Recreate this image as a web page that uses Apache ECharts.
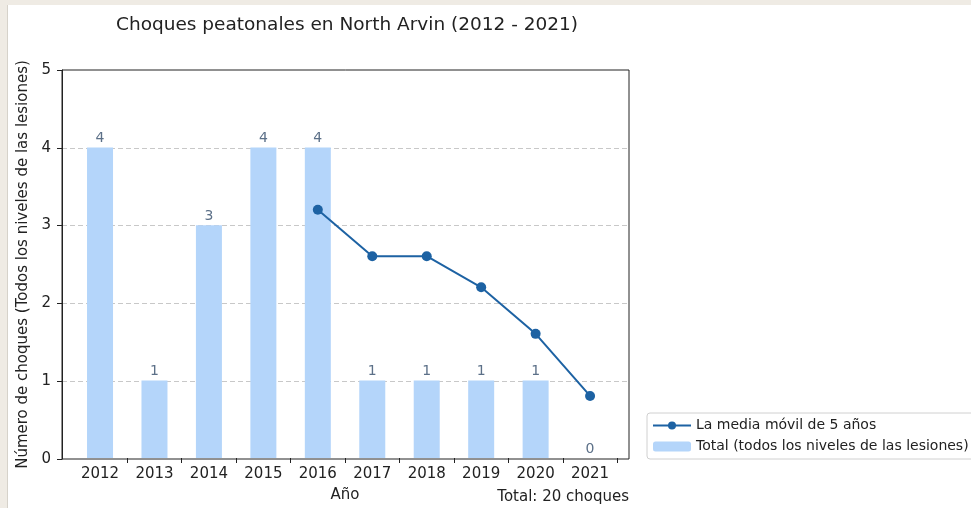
<!DOCTYPE html>
<html>
<head>
<meta charset="utf-8">
<script src="https://cdn.jsdelivr.net/npm/echarts@6/dist/echarts.min.js"></script>
<style>
html,body{margin:0;padding:0;background:#fff;}
#chart{width:971px;height:508px;}
</style>
</head>
<body>
<div id="chart"></div>
<script>
var years = ['2012','2013','2014','2015','2016','2017','2018','2019','2020','2021'];
var totals = [4, 1, 3, 4, 4, 1, 1, 1, 1, 0];
var movingAvg = [null, null, null, null, 3.2, 2.6, 2.6, 2.2, 1.6, 0.8];
var yTicks = [0, 1, 2, 3, 4, 5];
var titleText = 'Choques peatonales en North Arvin (2012 - 2021)';
var yName = 'Número de choques (Todos los niveles de las lesiones)';
var xName = 'Año';
var totalText = 'Total: 20 choques';
var lineName = 'La media móvil de 5 años';
var barName = 'Total (todos los niveles de las lesiones)';

var FONT = 'DejaVu Sans';
var chart = echarts.init(document.getElementById('chart'));
chart.setOption({
  backgroundColor: '#ffffff',
  animation: false,
  textStyle: {fontFamily: FONT},
  title: {
    text: titleText, left: 111, top: 11,
    textStyle: {fontFamily: FONT, fontSize: 18.5, fontWeight: 'normal', color: '#222'}
  },
  graphic: [
    {type: 'rect', shape: {x: 0, y: 0, width: 971, height: 5}, style: {fill: '#efebe4'}, silent: true},
    {type: 'rect', shape: {x: 0, y: 0, width: 7, height: 508}, style: {fill: '#efebe4'}, silent: true},
    {type: 'line', shape: {x1: 7.5, y1: 5, x2: 7.5, y2: 508}, style: {stroke: '#d6d2ca', lineWidth: 1}, silent: true},
    {type: 'text', x: 629, y: 497, style: {text: totalText, textAlign: 'right', textVerticalAlign: 'middle', fontFamily: FONT, fontSize: 15, fill: '#222'}, silent: true}
  ],
  legend: {
    orient: 'vertical', left: 647, top: 413,
    padding: [5, 8, 5, 5],
    itemWidth: 38, itemHeight: 10, itemGap: 6,
    backgroundColor: '#fff', borderColor: '#d0d0d0', borderWidth: 1, borderRadius: 3,
    textStyle: {fontFamily: FONT, fontSize: 14, color: '#222', lineHeight: 15},
    data: [lineName, barName]
  },
  grid: [
    {left: 62, right: 342, top: 70, bottom: 49, show: true, borderColor: '#222', borderWidth: 1, backgroundColor: '#fff'},
    {left: 72.8, right: 353.7, top: 70, bottom: 49}
  ],
  xAxis: [
    {gridIndex: 0, type: 'value', show: false, min: 0, max: 1},
    {
      gridIndex: 1, type: 'category', data: years,
      axisLine: {show: false},
      axisTick: {show: true, length: 5, lineStyle: {color: '#222'}, interval: function (i) { return i > 0; }},
      axisLabel: {fontFamily: FONT, fontSize: 15, color: '#222', margin: 9, interval: 0},
      name: xName, nameLocation: 'middle', nameGap: 30,
      nameTextStyle: {fontFamily: FONT, fontSize: 15, color: '#222'}
    }
  ],
  yAxis: [
    {
      gridIndex: 0, type: 'value', min: yTicks[0], max: yTicks[yTicks.length - 1], interval: 1,
      axisLine: {show: true, lineStyle: {color: '#222'}},
      axisTick: {show: true, length: 5, lineStyle: {color: '#222'}},
      axisLabel: {fontFamily: FONT, fontSize: 15, color: '#222', margin: 11},
      splitLine: {show: true, showMinLine: false, showMaxLine: false, lineStyle: {color: '#c8c8c8', type: [5, 3], width: 1}},
      name: yName, nameLocation: 'middle', nameGap: 29, nameRotate: 90,
      nameTextStyle: {fontFamily: FONT, fontSize: 15, color: '#222'}
    },
    {gridIndex: 1, type: 'value', min: 0, max: 5, show: false, splitLine: {show: false}}
  ],
  series: [
    {
      name: barName, type: 'bar', xAxisIndex: 1, yAxisIndex: 1,
      data: totals, barWidth: 26,
      itemStyle: {color: '#b4d5fa'},
      label: {show: true, position: 'top', distance: 2, fontFamily: FONT, fontSize: 14, color: '#5c7088'},
      z: 2
    },
    {
      name: lineName, type: 'line', xAxisIndex: 1, yAxisIndex: 1,
      data: movingAvg, symbol: 'circle', symbolSize: 10, showSymbol: true,
      lineStyle: {color: '#1d62a3', width: 2},
      itemStyle: {color: '#1d62a3'},
      z: 5
    }
  ]
});
</script>
</body>
</html>
